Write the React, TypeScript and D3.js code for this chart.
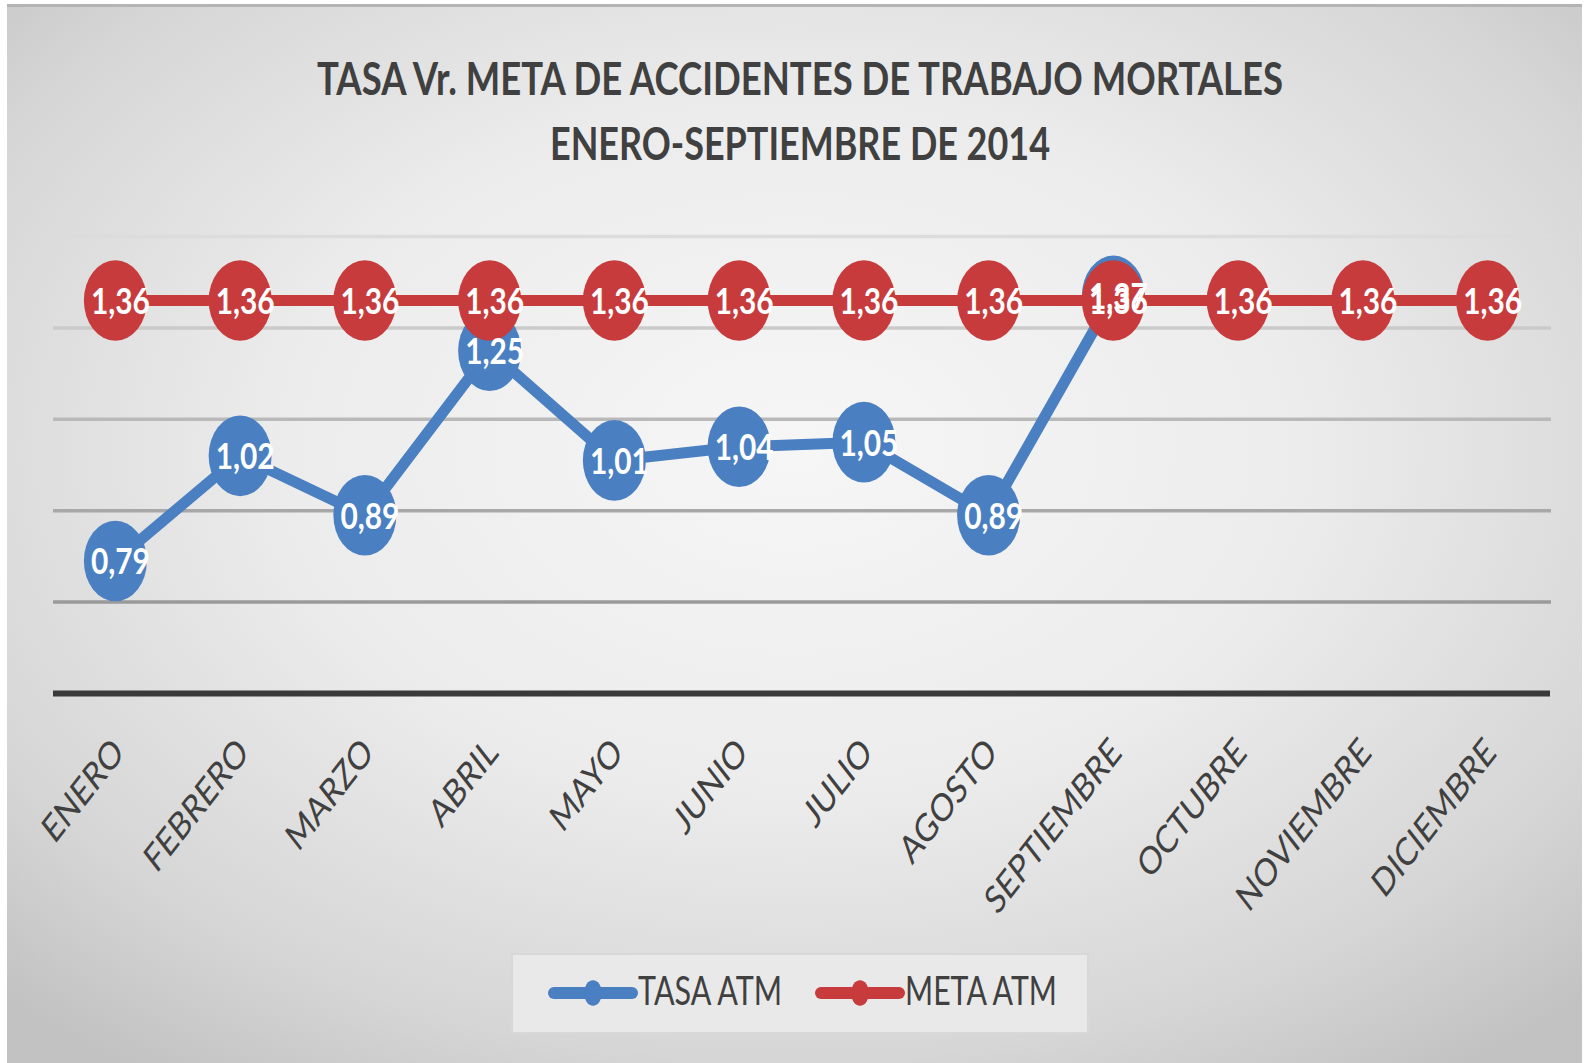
import React from "react";
import { scaleLinear, scalePoint, line, format } from "d3";

// values
const months = [
  "ENERO", "FEBRERO", "MARZO", "ABRIL", "MAYO", "JUNIO",
  "JULIO", "AGOSTO", "SEPTIEMBRE", "OCTUBRE", "NOVIEMBRE", "DICIEMBRE",
];
const tasaATM = [0.79, 1.02, 0.89, 1.25, 1.01, 1.04, 1.05, 0.89, 1.37];
const metaATM = [1.36, 1.36, 1.36, 1.36, 1.36, 1.36, 1.36, 1.36, 1.36, 1.36, 1.36, 1.36];
const yTicks = [0.5, 0.7, 0.9, 1.1, 1.3, 1.5];
const titleLines = ["TASA Vr. META DE ACCIDENTES DE TRABAJO MORTALES", "ENERO-SEPTIEMBRE DE 2014"];
const seriesNames = ["TASA ATM", "META ATM"];

const W = 1591;
const H = 1063;
const S = 1.28; // the picture is stretched vertically
const BLUE = "#4a7fc1";
const RED = "#c73b3c";
const gridColors = ["#dcdcdc", "#cacaca", "#b9b9b9", "#a8a8a8", "#9a9a9a"];

const fmt = (v: number) => format(".2f")(v).replace(".", ",");

function App() {
  const x = scalePoint<string>().domain(months).range([53, 1550]).padding(0.5);
  const y = scaleLinear().domain([0.5, 1.5]).range([693.5, 236.5]);

  const lineGen = line<number>()
    .x((d, i) => x(months[i]) as number)
    .y((d) => y(d));

  const series = [
    { name: seriesNames[0], values: tasaATM, color: BLUE },
    { name: seriesNames[1], values: metaATM, color: RED },
  ];

  const stretch = (px: number, py: number, extra = "") =>
    `translate(${px},${py}) scale(1,${S})${extra}`;

  return (
    <svg
      width={W}
      height={H}
      style={{ position: "absolute", left: 0, top: 0, display: "block" }}
      fontFamily="Lato, 'Open Sans', sans-serif"
    >
      <defs>
        <radialGradient id="bg" cx="0.5" cy="0.42" r="0.72">
          <stop offset="0" stopColor="#f6f6f6" />
          <stop offset="0.45" stopColor="#ececec" />
          <stop offset="0.8" stopColor="#d6d6d6" />
          <stop offset="1" stopColor="#c2c2c2" />
        </radialGradient>
      </defs>
      <rect x={0} y={0} width={W} height={H} fill="#ffffff" />
      <rect x={7} y={4} width={1575} height={1059} fill="url(#bg)" />
      <line x1={7} x2={1582} y1={5.5} y2={5.5} stroke="#b4b4b4" strokeWidth={3} />

      {/* title */}
      {titleLines.map((t, i) => (
        <text
          key={t}
          transform={stretch(800, i === 0 ? 95 : 160)}
          textAnchor="middle"
          fontSize={36}
          fontWeight={700}
          fill="#404040"
          textLength={i === 0 ? 966 : 500}
          lengthAdjust="spacingAndGlyphs"
        >
          {t}
        </text>
      ))}

      {/* gridlines */}
      {yTicks.slice(1).reverse().map((t, i) => (
        <line
          key={t}
          x1={53}
          x2={1551}
          y1={y(t)}
          y2={y(t)}
          stroke={gridColors[i]}
          strokeWidth={3.5}
        />
      ))}
      <line x1={53} x2={1550} y1={y(0.5)} y2={y(0.5)} stroke="#3a3a3a" strokeWidth={6} />

      {/* category labels */}
      {months.map((m) => (
        <text
          key={m}
          transform={stretch((x(m) as number) + 10, y(0.5) + 61, " rotate(-45)")}
          textAnchor="end"
          fontSize={30}
          fill="#404040"
        >
          {m}
        </text>
      ))}

      {/* lines and markers */}
      {series.map((s) => (
        <g key={s.name}>
          <path
            d={lineGen(s.values) as string}
            fill="none"
            stroke={s.color}
            strokeWidth={11}
            strokeLinejoin="round"
          />
          {s.values.map((v, i) => (
            <ellipse
              key={i}
              cx={x(months[i]) as number}
              cy={y(v)}
              rx={31.5}
              ry={31.5 * S}
              fill={s.color}
            />
          ))}
        </g>
      ))}

      {/* data labels */}
      {series.map((s) => (
        <g key={s.name + "-lbl"}>
          {s.values.map((v, i) => (
            <text
              key={i}
              transform={stretch((x(months[i]) as number) + 5, y(v) + 13.5)}
              textAnchor="middle"
              fontSize={28}
              fontWeight={700}
              fill="#ffffff"
              textLength={59}
              lengthAdjust="spacingAndGlyphs"
            >
              {fmt(v)}
            </text>
          ))}
        </g>
      ))}

      {/* legend */}
      <rect x={512} y={954} width={576} height={79} fill="#e9e9e9" stroke="#d8d8d8" strokeWidth={2} />
      {series.map((s, i) => {
        const x0 = i === 0 ? 554 : 821;
        const ly = 993;
        return (
          <g key={s.name + "-leg"}>
            <line x1={x0} x2={x0 + 78} y1={ly} y2={ly} stroke={s.color} strokeWidth={12} strokeLinecap="round" />
            <ellipse cx={x0 + 39} cy={ly} rx={9} ry={9 * S * 1.1} fill={s.color} />
            <text
              transform={stretch(x0 + 84, 1005)}
              fontSize={31}
              fill="#404040"
              textLength={i === 0 ? 144 : 152}
              lengthAdjust="spacingAndGlyphs"
            >
              {s.name}
            </text>
          </g>
        );
      })}
    </svg>
  );
}

export default App;
